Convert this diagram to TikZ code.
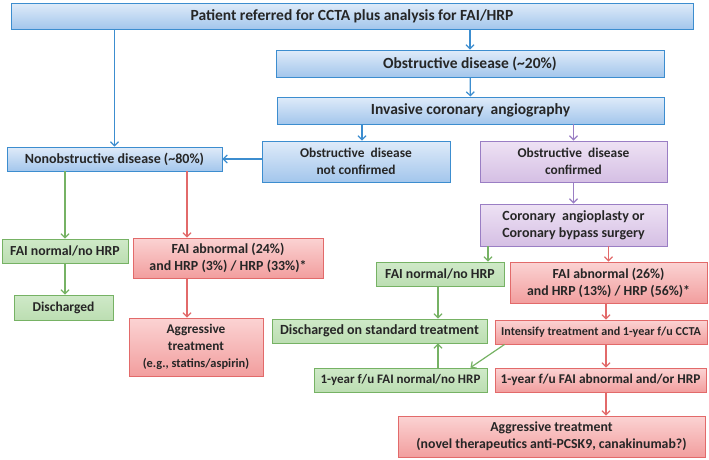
\documentclass[tikz,border=0pt]{standalone}
\usepackage{fontspec}
\setmainfont{Carlito}
\usetikzlibrary{arrows.meta}

\definecolor{blueline}{HTML}{3C8DCF}
\definecolor{bluetop}{HTML}{DFEBF9}
\definecolor{bluebot}{HTML}{A3C6EC}
\definecolor{greenline}{HTML}{76B264}
\definecolor{greentop}{HTML}{CFE9C8}
\definecolor{greenbot}{HTML}{BCDEB2}
\definecolor{redline}{HTML}{E26A6A}
\definecolor{redtop}{HTML}{FBD3D3}
\definecolor{redbot}{HTML}{F29E9E}
\definecolor{purpleline}{HTML}{9A7EC4}
\definecolor{purpletop}{HTML}{EEE2F4}
\definecolor{purplebot}{HTML}{D5BFE4}
\definecolor{textgray}{HTML}{262626}

\newcommand{\linesize}[1]{\fontsize{#1}{17}\selectfont}

\begin{document}
\begin{tikzpicture}[
    x=1pt, y=-1pt,
    box/.style={line width=0.9pt, align=center, inner sep=1pt, text=textgray},
    fs/.style={font=\fontsize{#1}{17}\selectfont\bfseries},
    bluebox/.style={box, draw=blueline, top color=bluetop, bottom color=bluebot},
    greenbox/.style={box, draw=greenline, top color=greentop, bottom color=greenbot},
    redbox/.style={box, draw=redline, top color=redtop, bottom color=redbot},
    purplebox/.style={box, draw=purpleline, top color=purpletop, bottom color=purplebot},
    link/.style={line width=1.2pt, -{Straight Barb[length=4pt, width=8pt]}},
    bluelink/.style={link, draw=blueline},
    greenlink/.style={link, draw=greenline},
    redlink/.style={link, draw=redline},
    purplelink/.style={link, draw=purpleline}
]
    \useasboundingbox (0,0) rectangle (709,459);

    \node[bluebox, fs=15.5, minimum width=682pt, minimum height=26pt] (patient) at (352,16)
        {Patient referred for CCTA plus analysis for FAI/HRP};
    \node[bluebox, fs=15.5, minimum width=388pt, minimum height=27pt] (obs) at (470,63.5)
        {Obstructive disease (\textasciitilde 20\%)};
    \node[bluebox, fs=15.5, minimum width=387pt, minimum height=27pt] (ica) at (470.5,110.5)
        {Invasive coronary~~angiography};
    \node[bluebox, fs=14, minimum width=215pt, minimum height=24pt] (nonobs) at (114.5,159)
        {Nonobstructive disease (\textasciitilde 80\%)};
    \node[bluebox, fs=13.4, minimum width=188pt, minimum height=41pt] (notconf) at (356,161.5)
        {Obstructive~ disease\\not confirmed};
    \node[purplebox, fs=13.4, minimum width=187pt, minimum height=41pt] (conf) at (573.5,161.5)
        {Obstructive~ disease\\confirmed};
    \node[purplebox, fs=14, minimum width=187pt, minimum height=42pt] (revasc) at (573.5,225)
        {Coronary~ angioplasty or\\Coronary bypass surgery};

    % left branch
    \node[greenbox, fs=13.8, minimum width=126pt, minimum height=24pt] (normA) at (65,251)
        {FAI normal/no HRP};
    \node[redbox, fs=13.9, minimum width=190pt, minimum height=40pt] (abnA) at (228,258)
        {FAI abnormal (24\%)\\and HRP (3\%) / HRP (33\%)*};
    \node[greenbox, fs=13.5, minimum width=99pt, minimum height=25pt] (dischA) at (63.5,307.5)
        {Discharged};
    \node[redbox, fs=12.4, minimum width=134pt, minimum height=58pt] (aggrA) at (196,347)
        {\linesize{13.3}Aggressive\\\linesize{13.3}treatment\\(e.g., statins/aspirin)};

    % right branch
    \node[greenbox, fs=13.8, minimum width=128pt, minimum height=24pt] (normB) at (440,274)
        {FAI normal/no HRP};
    \node[redbox, fs=13.8, minimum width=197pt, minimum height=41pt] (abnB) at (608.5,282.5)
        {FAI abnormal (26\%)\\and HRP (13\%) / HRP (56\%)*};
    \node[greenbox, fs=14, minimum width=215pt, minimum height=24pt] (dischB) at (379.5,331)
        {Discharged on standard treatment};
    \node[redbox, fs=12.1, minimum width=212pt, minimum height=24pt] (intens) at (601,332)
        {Intensify treatment and 1-year f/u CCTA};
    \node[greenbox, fs=13, minimum width=173pt, minimum height=24pt] (fuNorm) at (400.5,380)
        {1-year f/u FAI normal/no HRP};
    \node[redbox, fs=13.4, minimum width=211pt, minimum height=24pt] (fuAbn) at (600.5,380)
        {1-year f/u FAI abnormal and/or HRP};
    \node[redbox, fs=13.8, minimum width=307pt, minimum height=41pt] (aggrB) at (551.5,436.5)
        {Aggressive treatment\\(novel therapeutics anti-PCSK9, canakinumab?)};

    \coordinate (laneA) at (187,0);
    \coordinate (laneB) at (488,0);

    \draw[bluelink] (patient.south -| nonobs.north) -- (nonobs.north);
    \draw[bluelink] (patient.south -| obs.north) -- (obs.north);
    \draw[bluelink] (obs) -- (ica);
    \draw[bluelink] (ica.south -| 362,0) -- (notconf.north -| 362,0);
    \draw[purplelink] (ica.south -| conf.north) -- (conf.north);
    \draw[bluelink] (nonobs.east -| notconf.west) -- (nonobs.east);
    \draw[purplelink] (conf) -- (revasc);

    \draw[greenlink] (nonobs.south -| normA.north) -- (normA.north);
    \draw[redlink] (nonobs.south -| laneA) -- (abnA.north -| laneA);
    \draw[greenlink] (normA) -- (normA.south |- dischA.north);
    \draw[redlink] (abnA.south -| laneA) -- (aggrA.north -| laneA);

    \draw[greenlink] (revasc.south -| laneB) -- (normB.north -| laneB);
    \draw[redlink] (revasc.south -| abnB.north) -- (abnB.north);
    \draw[greenlink] (normB.south -| 438,0) -- (dischB.north -| 438,0);
    \draw[redlink] (abnB.south -| 606,0) -- (intens.north -| 606,0);
    \draw[redlink] (intens.south -| 606,0) -- (fuAbn.north -| 606,0);
    \draw[redlink] (fuAbn.south -| 606,0) -- (aggrB.north -| 606,0);
    \draw[greenlink] ([xshift=10pt]intens.south west) -- ([xshift=-17pt]fuNorm.north east);
    \draw[greenlink] (fuNorm.north -| 438,0) -- (dischB.south -| 438,0);
\end{tikzpicture}
\end{document}
